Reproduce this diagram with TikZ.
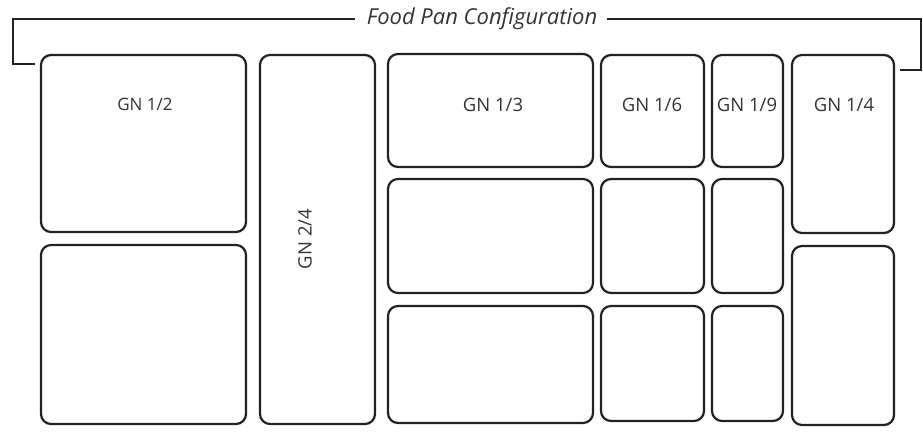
\documentclass[tikz,border=0pt]{standalone}
\usepackage{fontspec}
\setmainfont{Open Sans}
\definecolor{ink}{HTML}{222222}
\definecolor{txt}{HTML}{333333}
\begin{document}
\begin{tikzpicture}[x=1pt,y=-1pt,
  pan/.style={draw=ink,line width=2.2pt,rounded corners=10pt},
  lbl/.style={text=txt,font=\fontsize{18.5}{22}\selectfont,inner sep=0pt},
  brk/.style={draw=ink,line width=2pt}]
\useasboundingbox (0,0) rectangle (923,433);
% column 1: GN 1/2
\path[pan] (41,55) rectangle (246,232) coordinate (p12a);
\path[pan] (41,245) rectangle (246,424) coordinate (p12b);
% GN 2/4
\path[pan] (260,55) rectangle (375,424) coordinate (p24);
% GN 1/3
\path[pan] (388,54) rectangle (593,167) coordinate (p13a);
\path[pan] (388,179) rectangle (593,293) coordinate (p13b);
\path[pan] (388,306) rectangle (593,423) coordinate (p13c);
% GN 1/6
\path[pan] (601,55) rectangle (704,167) coordinate (p16a);
\path[pan] (601,179) rectangle (704,293) coordinate (p16b);
\path[pan] (601,306) rectangle (704,421) coordinate (p16c);
% GN 1/9
\path[pan] (712,55) rectangle (783,167) coordinate (p19a);
\path[pan] (712,179) rectangle (783,293) coordinate (p19b);
\path[pan] (712,306) rectangle (783,421) coordinate (p19c);
% GN 1/4
\path[pan] (792,55) rectangle (894,233) coordinate (p14a);
\path[pan] (792,246) rectangle (894,425) coordinate (p14b);
% labels
\node[lbl,font=\fontsize{17}{20}\selectfont] (l12) at (145,104) {GN 1/2};
\node[lbl,rotate=90] (l24) at (305,239) {GN 2/4};
\node[lbl] (l13) at (493,105) {GN 1/3};
\node[lbl] (l16) at (652,105) {GN 1/6};
\node[lbl] (l19) at (747,105) {GN 1/9};
\node[lbl] (l14) at (844,105) {GN 1/4};
% bracket and title
\node[text=txt,font=\fontsize{22}{26}\selectfont\itshape,inner sep=0pt] (title) at (482,19) {Food Pan Configuration};
\coordinate (bl) at (35,64);
\coordinate (br) at (900,70);
\draw[brk] (bl) -- (13,64) -- (13,19) -- (355,19);
\draw[brk] (607,19) -- (920.5,19) -- (920.5,70) -- (br);
\end{tikzpicture}
\end{document}
